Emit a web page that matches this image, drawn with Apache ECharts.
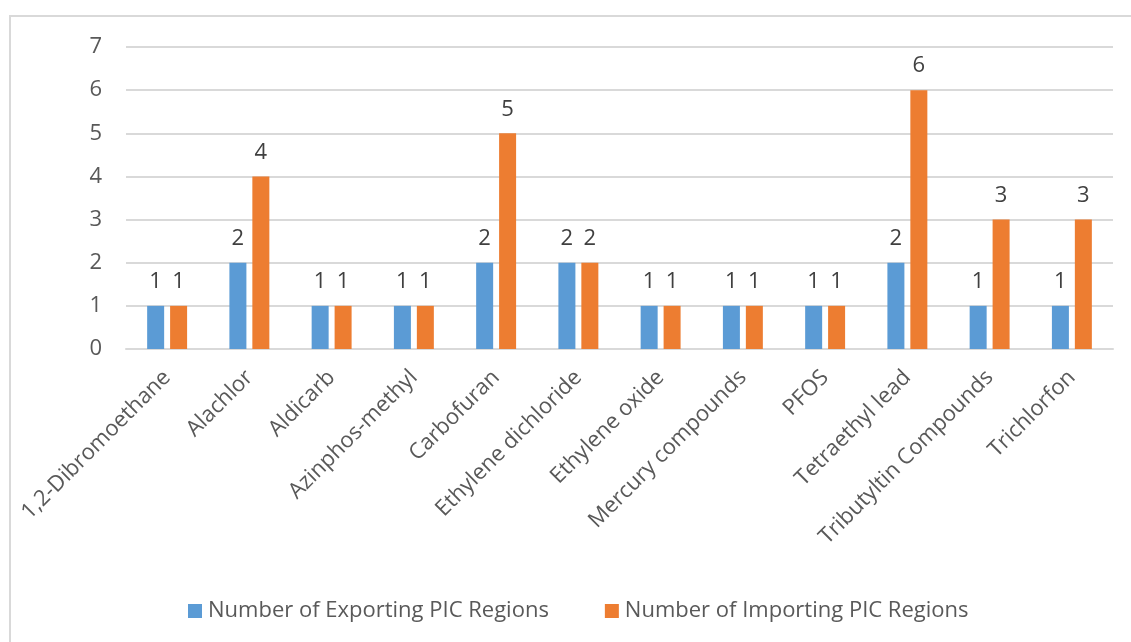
<!DOCTYPE html>
<html>
<head>
<meta charset="utf-8">
<script src="https://cdn.jsdelivr.net/npm/echarts@6/dist/echarts.min.js"></script>
<style>
  html, body { margin: 0; padding: 0; background: #ffffff; }
  .frame {
    position: absolute; left: 9px; top: 15px; width: 1122px; height: 627px;
    border-top: 2px solid #d9d9d9; border-left: 2px solid #d9d9d9; box-sizing: border-box;
  }
  #chart { position: absolute; left: 0; top: 0; width: 1131px; height: 642px; }
</style>
</head>
<body>
<div class="frame"></div>
<div id="chart"></div>
<script>
var categories = ['1,2-Dibromoethane', 'Alachlor', 'Aldicarb', 'Azinphos-methyl', 'Carbofuran',
  'Ethylene dichloride', 'Ethylene oxide', 'Mercury compounds', 'PFOS', 'Tetraethyl lead',
  'Tributyltin Compounds', 'Trichlorfon'];
var exporting = [1, 2, 1, 1, 2, 2, 1, 1, 1, 2, 1, 1];
var importing = [1, 4, 1, 1, 5, 2, 1, 1, 1, 6, 3, 3];
var seriesNames = ['Number of Exporting PIC Regions', 'Number of Importing PIC Regions'];

var font = 'Open Sans';
var textColor = '#595959';

var myChart = echarts.init(document.getElementById('chart'));
myChart.setOption({
    animation: false,
    textStyle: { fontFamily: font },
    color: ['#5b9bd5', '#ed7d31'],
    grid: {
        left: 126,
        right: 18,
        top: 47,
        bottom: 293
    },
    legend: {
        top: 595,
        left: 183,
        itemWidth: 14,
        itemHeight: 14,
        itemGap: 56,
        icon: 'rect',
        textStyle: { color: textColor, fontSize: 22, fontFamily: font, padding: [0, 0, 0, 1] },
        data: seriesNames
    },
    xAxis: {
        type: 'category',
        data: categories,
        axisLine: { lineStyle: { color: '#d9d9d9', width: 2 } },
        axisTick: { show: false },
        axisLabel: {
            rotate: 45,
            interval: 0,
            margin: 25,
            color: textColor,
            fontSize: 22,
            fontFamily: font
        }
    },
    yAxis: {
        type: 'value',
        min: 0,
        max: 7,
        interval: 1,
        axisLine: { show: false },
        axisTick: { show: false },
        axisLabel: { color: textColor, fontSize: 22, margin: 24, fontFamily: font },
        splitLine: { lineStyle: { color: '#d9d9d9', width: 2 } }
    },
    series: [
        {
            name: seriesNames[0],
            type: 'bar',
            data: exporting,
            barWidth: 17,
            barGap: '35%',
            label: { show: true, position: 'top', distance: 13, color: '#404040', fontSize: 22, fontFamily: font }
        },
        {
            name: seriesNames[1],
            type: 'bar',
            data: importing,
            barWidth: 17,
            barGap: '35%',
            label: { show: true, position: 'top', distance: 13, color: '#404040', fontSize: 22, fontFamily: font }
        }
    ]
});
window.addEventListener('resize', function () {
    myChart.resize();
});
</script>
</body>
</html>
